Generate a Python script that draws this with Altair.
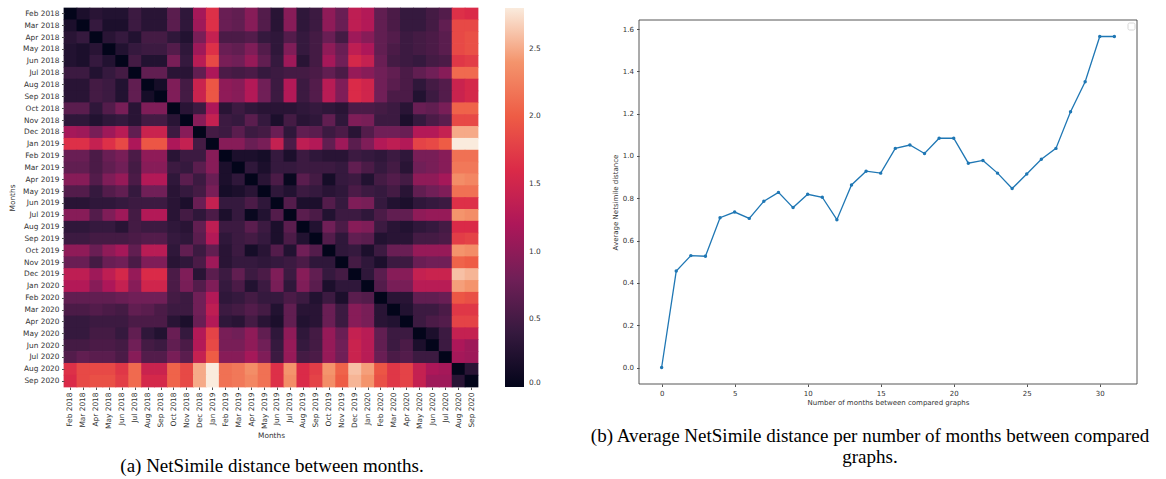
import altair as alt
import pandas as pd

months = [
    "Feb 2018", "Mar 2018", "Apr 2018", "May 2018", "Jun 2018", "Jul 2018",
    "Aug 2018", "Sep 2018", "Oct 2018", "Nov 2018", "Dec 2018", "Jan 2019",
    "Feb 2019", "Mar 2019", "Apr 2019", "May 2019", "Jun 2019", "Jul 2019",
    "Aug 2019", "Sep 2019", "Oct 2019", "Nov 2019", "Dec 2019", "Jan 2020",
    "Feb 2020", "Mar 2020", "Apr 2020", "May 2020", "Jun 2020", "Jul 2020",
    "Aug 2020", "Sep 2020",
]

# NetSimile distance from each month to every later month
d_2018_02 = [0.2, 0.3, 0.25, 0.25, 0.45, 0.3, 0.3, 0.65, 0.35, 1.15, 1.65, 0.75, 0.7, 0.95, 0.6, 0.3,
             0.95, 0.35, 0.45, 1.0, 0.75, 1.35, 1.25, 0.7, 0.55, 0.4, 0.4, 0.5, 0.6, 1.65, 1.6]
d_2018_03 = [0.4, 0.2, 0.2, 0.45, 0.3, 0.3, 0.65, 0.35, 1.1, 1.65, 0.75, 0.7, 0.95, 0.6, 0.3,
             0.95, 0.35, 0.45, 1.0, 0.75, 1.35, 1.25, 0.7, 0.55, 0.4, 0.4, 0.5, 0.7, 1.85, 1.85]
d_2018_04 = [0.3, 0.4, 0.25, 0.5, 0.5, 0.35, 0.25, 0.85, 1.4, 0.55, 0.55, 0.6, 0.4, 0.35,
             0.6, 0.4, 0.5, 0.75, 0.5, 1.1, 0.95, 0.7, 0.6, 0.45, 0.5, 0.55, 0.65, 1.85, 1.9]
d_2018_05 = [0.25, 0.4, 0.45, 0.45, 0.6, 0.35, 1.1, 1.65, 0.75, 0.7, 0.9, 0.6, 0.35,
             0.9, 0.4, 0.5, 1.0, 0.75, 1.35, 1.2, 0.7, 0.55, 0.45, 0.5, 0.55, 0.65, 1.85, 1.9]
d_2018_06 = [0.5, 0.25, 0.25, 0.85, 0.4, 1.3, 1.85, 0.85, 0.8, 1.05, 0.7, 0.4,
             1.1, 0.3, 0.5, 1.15, 0.8, 1.55, 1.4, 0.75, 0.5, 0.45, 0.4, 0.5, 0.55, 1.7, 1.75]
d_2018_07 = [0.7, 0.7, 0.3, 0.3, 0.7, 1.2, 0.55, 0.5, 0.55, 0.4, 0.45,
             0.5, 0.5, 0.55, 0.7, 0.55, 1.05, 0.95, 0.8, 0.7, 0.55, 0.7, 0.8, 0.95, 2.1, 2.1]
d_2018_08 = [0.15, 0.9, 0.5, 1.45, 1.95, 1.0, 0.95, 1.25, 0.8, 0.45,
             1.25, 0.45, 0.6, 1.3, 0.9, 1.6, 1.5, 0.8, 0.65, 0.55, 0.35, 0.5, 0.6, 1.45, 1.55]
d_2018_09 = [0.9, 0.5, 1.45, 1.95, 1.0, 0.95, 1.25, 0.8, 0.45,
             1.25, 0.45, 0.6, 1.3, 0.9, 1.6, 1.5, 0.8, 0.55, 0.55, 0.25, 0.45, 0.6, 1.45, 1.55]
d_2018_10 = [0.3, 0.45, 1.2, 0.3, 0.45, 0.35, 0.3, 0.3,
             0.3, 0.35, 0.4, 0.35, 0.3, 0.55, 0.55, 0.5, 0.45, 0.3, 0.75, 0.7, 0.85, 2.05, 2.05]
d_2018_11 = [0.95, 1.4, 0.45, 0.4, 0.65, 0.4, 0.2,
             0.5, 0.3, 0.35, 0.7, 0.35, 0.9, 0.85, 0.45, 0.45, 0.2, 0.4, 0.55, 0.65, 1.85, 1.85]
d_2018_12 = [0.5, 0.45, 0.65, 0.45, 0.5, 0.75,
             0.35, 0.7, 0.65, 0.45, 0.55, 0.3, 0.6, 0.8, 0.8, 0.75, 1.25, 1.25, 1.4, 2.5, 2.5]
d_2019_01 = [0.95, 0.95, 0.75, 0.85, 1.4,
             0.55, 1.35, 1.25, 0.7, 1.1, 0.65, 0.9, 1.25, 1.35, 1.25, 1.8, 1.85, 2.0, 2.8, 2.8]
d_2019_02 = [0.2, 0.2, 0.15, 0.4,
             0.2, 0.45, 0.35, 0.3, 0.3, 0.45, 0.4, 0.35, 0.45, 0.35, 0.85, 0.85, 0.95, 2.15, 2.15]
d_2019_03 = [0.35, 0.2, 0.4,
             0.4, 0.45, 0.45, 0.45, 0.4, 0.7, 0.55, 0.4, 0.5, 0.3, 0.8, 0.85, 0.95, 2.2, 2.2]
d_2019_04 = [0.3, 0.55,
             0.05, 0.65, 0.5, 0.15, 0.4, 0.45, 0.25, 0.5, 0.6, 0.5, 1.0, 1.0, 1.15, 2.35, 2.3]
d_2019_05 = [0.35,
             0.25, 0.45, 0.4, 0.3, 0.35, 0.55, 0.45, 0.4, 0.5, 0.3, 0.7, 0.8, 0.9, 2.15, 2.15]
d_2019_06 = [0.6, 0.2, 0.2, 0.6, 0.4, 0.9, 0.85, 0.4, 0.25, 0.2, 0.35, 0.4, 0.45, 1.65, 1.65]
d_2019_07 = [0.65, 0.55, 0.25, 0.45, 0.45, 0.35, 0.55, 0.7, 0.7, 1.0, 1.05, 1.05, 2.4, 2.35]
d_2019_08 = [0.25, 0.8, 0.55, 0.95, 0.9, 0.45, 0.3, 0.25, 0.35, 0.4, 0.5, 1.6, 1.6]
d_2019_09 = [0.6, 0.35, 0.7, 0.65, 0.25, 0.3, 0.3, 0.5, 0.5, 0.55, 1.75, 1.8]
d_2019_10 = [0.35, 0.4, 0.2, 0.45, 0.75, 0.75, 1.05, 1.05, 1.05, 2.4, 2.35]
d_2019_11 = [0.5, 0.35, 0.2, 0.45, 0.45, 0.75, 0.8, 0.8, 2.05, 2.0]
d_2019_12 = [0.35, 0.65, 0.95, 0.95, 1.4, 1.45, 1.45, 2.6, 2.55]
d_2020_01 = [0.6, 0.85, 0.85, 1.3, 1.3, 1.3, 2.45, 2.4]
d_2020_02 = [0.3, 0.3, 0.7, 0.7, 0.75, 1.95, 1.9]
d_2020_03 = [0.25, 0.45, 0.45, 0.55, 1.7, 1.7]
d_2020_04 = [0.45, 0.55, 0.6, 1.8, 1.8]
d_2020_05 = [0.2, 0.45, 1.4, 1.4]
d_2020_06 = [0.45, 1.2, 1.1]
d_2020_07 = [1.15, 1.1]
d_2020_08 = [0.3]

later_distances = [
    d_2018_02, d_2018_03, d_2018_04, d_2018_05, d_2018_06, d_2018_07, d_2018_08,
    d_2018_09, d_2018_10, d_2018_11, d_2018_12, d_2019_01, d_2019_02, d_2019_03,
    d_2019_04, d_2019_05, d_2019_06, d_2019_07, d_2019_08, d_2019_09, d_2019_10,
    d_2019_11, d_2019_12, d_2020_01, d_2020_02, d_2020_03, d_2020_04, d_2020_05,
    d_2020_06, d_2020_07, d_2020_08,
]

# Average distance for each number of months between the two compared graphs
gap_months = list(range(32))
avg_distance = [0.0, 0.456, 0.529, 0.526, 0.708, 0.735, 0.705, 0.786, 0.828, 0.756,
                0.819, 0.805, 0.699, 0.863, 0.928, 0.919, 1.036, 1.052, 1.012, 1.084,
                1.084, 0.966, 0.979, 0.919, 0.846, 0.915, 0.985, 1.036, 1.209, 1.351,
                1.565, 1.565]

caption_a = "(a) NetSimile distance between months."
caption_b = "(b) Average NetSimile distance per number of months between compared\ngraphs."

# "rocket"-style colour stops, evenly spaced from 0 to the largest distance
rocket = ["#03051A", "#35193E", "#701F57", "#AD1759", "#DA2A48", "#EE5C45", "#F4946C", "#FAEBDD"]

# symmetric distance matrix -> long table
n = len(months)
matrix = [[0.0] * n for _ in range(n)]
for i, row in enumerate(later_distances):
    for j, v in enumerate(row, start=i + 1):
        matrix[i][j] = v
        matrix[j][i] = v
heat_df = pd.DataFrame(
    [{"row": months[i], "col": months[j], "value": matrix[i][j]} for i in range(n) for j in range(n)]
)
vmax = max(max(r) for r in later_distances)
stops = [vmax * k / (len(rocket) - 1) for k in range(len(rocket))]

AXIS_FONT = "DejaVu Sans"
TXT = "#333333"
color_scale = alt.Scale(domain=stops, range=rocket, interpolate="rgb")

# cells are drawn a hair larger than their band so no hairline gaps show between them
heat = alt.Chart(heat_df).mark_rect(
    width=alt.RelativeBandSize(1.06), height=alt.RelativeBandSize(1.06)
).encode(
    x=alt.X("col:O", sort=months, scale=alt.Scale(paddingInner=0, paddingOuter=0),
            axis=alt.Axis(title="Months", labelAngle=270, labelFontSize=7.4, titleFontSize=7.4,
                          tickSize=2.5, labelPadding=2.5, titlePadding=3, domain=False,
                          tickColor="#555", labelColor=TXT, titleColor=TXT)),
    y=alt.Y("row:O", sort=months, scale=alt.Scale(paddingInner=0, paddingOuter=0),
            axis=alt.Axis(title="Months", labelFontSize=7.4, titleFontSize=7.4,
                          tickSize=2.5, labelPadding=2.5, titlePadding=6, domain=False,
                          tickColor="#555", labelColor=TXT, titleColor=TXT)),
    color=alt.Color("value:Q", scale=color_scale,
                    legend=alt.Legend(type="gradient", title=None, orient="right", offset=27,
                                      padding=0, direction="vertical", gradientLength=379,
                                      gradientThickness=19, gradientStrokeWidth=0,
                                      values=[0, 0.5, 1.0, 1.5, 2.0, 2.5], format=".1f",
                                      labelFontSize=7.4, labelFont=AXIS_FONT, labelColor=TXT,
                                      labelOffset=5, labelOverlap=False)),
)

cap_a = alt.Chart(pd.DataFrame({"t": [caption_a]})).mark_text(
    font="Liberation Serif", fontSize=19, align="center", baseline="middle", color="black"
).encode(text="t:N", x=alt.value(208), y=alt.value(458))

left = alt.layer(heat, cap_a).properties(width=414, height=379)

line_df = pd.DataFrame({"gap": gap_months, "avg": avg_distance})
x_enc = alt.X("gap:Q", scale=alt.Scale(domain=[-1.55, 32.55], nice=False, zero=False),
              axis=alt.Axis(title="Number of months between compared graphs",
                            values=[0, 5, 10, 15, 20, 25, 30], grid=False, domain=False,
                            labelFontSize=7, titleFontSize=7, tickSize=2.5, labelPadding=3,
                            titlePadding=2, tickColor="#555", labelColor=TXT, titleColor=TXT))
y_enc = alt.Y("avg:Q", scale=alt.Scale(domain=[-0.078, 1.643], nice=False, zero=False, range=[376, 12]),
              axis=alt.Axis(title="Average Netsimile distance",
                            values=[0, 0.2, 0.4, 0.6, 0.8, 1.0, 1.2, 1.4, 1.6], format=".1f",
                            grid=False, domain=False, labelFontSize=7, titleFontSize=7,
                            tickSize=2.5, labelPadding=3, titlePadding=4, tickColor="#555",
                            labelColor=TXT, titleColor=TXT))

line = alt.Chart(line_df).mark_line(color="#1f77b4", strokeWidth=1.3).encode(x=x_enc, y=y_enc)
pts = alt.Chart(line_df).mark_circle(color="#1f77b4", size=12, opacity=1).encode(x="gap:Q", y="avg:Q")

frame = alt.Chart(pd.DataFrame({"f": [0]})).mark_rect(
    fillOpacity=0, stroke="#444444", strokeWidth=0.9
).encode(x=alt.value(0), x2=alt.value(498), y=alt.value(12), y2=alt.value(376))

legend_box = alt.Chart(pd.DataFrame({"f": [0]})).mark_rect(
    fill="white", stroke="#cccccc", strokeWidth=0.8, cornerRadius=1.5
).encode(x=alt.value(489), x2=alt.value(496), y=alt.value(15), y2=alt.value(22))

cap_b = alt.Chart(pd.DataFrame({"t": [caption_b]})).mark_text(
    font="Liberation Serif", fontSize=19, align="center", baseline="middle",
    lineBreak="\n", lineHeight=21, color="black"
).encode(text="t:N", x=alt.value(231), y=alt.value(428))

right = alt.layer(frame, line, pts, legend_box, cap_b).properties(width=498, height=376)

chart = alt.hconcat(left, right, spacing=161, bounds="flush").resolve_legend(
    color="independent"
).properties(
    padding={"left": 8, "top": 7, "right": 0, "bottom": 0}
).configure_view(strokeWidth=0).configure_axis(
    labelFont=AXIS_FONT, titleFont=AXIS_FONT, titleFontWeight="normal"
)

chart.save("out.html", embed_options={"renderer": "svg", "actions": False})
